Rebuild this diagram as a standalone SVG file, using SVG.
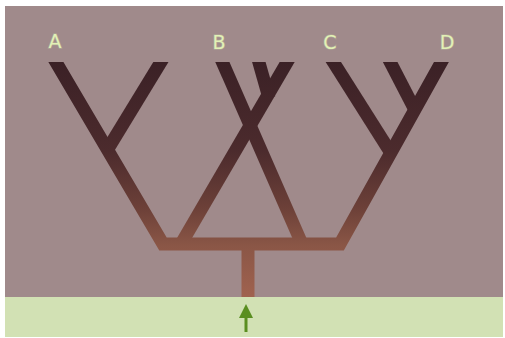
<svg xmlns="http://www.w3.org/2000/svg" width="505" height="338" viewBox="0 0 505 338">
<style>
.lbl{font-family:"DejaVu Sans","Liberation Sans",sans-serif;font-size:19px;fill:#e2f1b6;text-anchor:middle;stroke:#c9d3a8;stroke-opacity:0.35;stroke-width:1.5;paint-order:stroke}
.br{fill:none;stroke:url(#g);stroke-width:13;stroke-linejoin:miter;stroke-linecap:butt}
</style>
<defs>
<linearGradient id="g" gradientUnits="userSpaceOnUse" x1="0" y1="62" x2="0" y2="297">
<stop offset="0" stop-color="#3b2126"/>
<stop offset="0.38" stop-color="#4c2b2d"/>
<stop offset="0.62" stop-color="#6c4038"/>
<stop offset="0.78" stop-color="#8a5646"/>
<stop offset="1" stop-color="#a0624f"/>
</linearGradient>
<clipPath id="clip"><rect x="0" y="62" width="505" height="235"/></clipPath>
</defs>
<rect x="0" y="0" width="505" height="338" fill="#ffffff"/>
<rect id="panel" x="5" y="6" width="498" height="291" fill="#a08a8b"/>
<rect id="soil" x="5" y="297" width="498" height="40" fill="#d2e1b4"/>
<g id="connectors" clip-path="url(#clip)">
<path class="br" d="M248 297 V244"/>
<path class="br" d="M50 52 L163 244 H340 L447 52"/>
<path class="br" d="M167 52 L106 152"/>
<path class="br" d="M218 52 L302 244"/>
<path class="br" d="M293 52 L181 244"/>
<path class="br" d="M256 52 L269 98"/>
<path class="br" d="M327 52 L389 150"/>
<path class="br" d="M385 52 L415 110"/>
</g>
<g id="node-A"><text class="lbl" x="55" y="48">A</text></g>
<g id="node-B"><text class="lbl" x="219" y="49">B</text></g>
<g id="node-C"><text class="lbl" x="330" y="49">C</text></g>
<g id="node-D"><text class="lbl" x="447" y="49">D</text></g>
<g id="arrow" fill="#5a8e20" stroke="none">
<rect x="244.5" y="316" width="3" height="16"/>
<polygon points="246,304 253,318 239,318"/>
</g>
</svg>
